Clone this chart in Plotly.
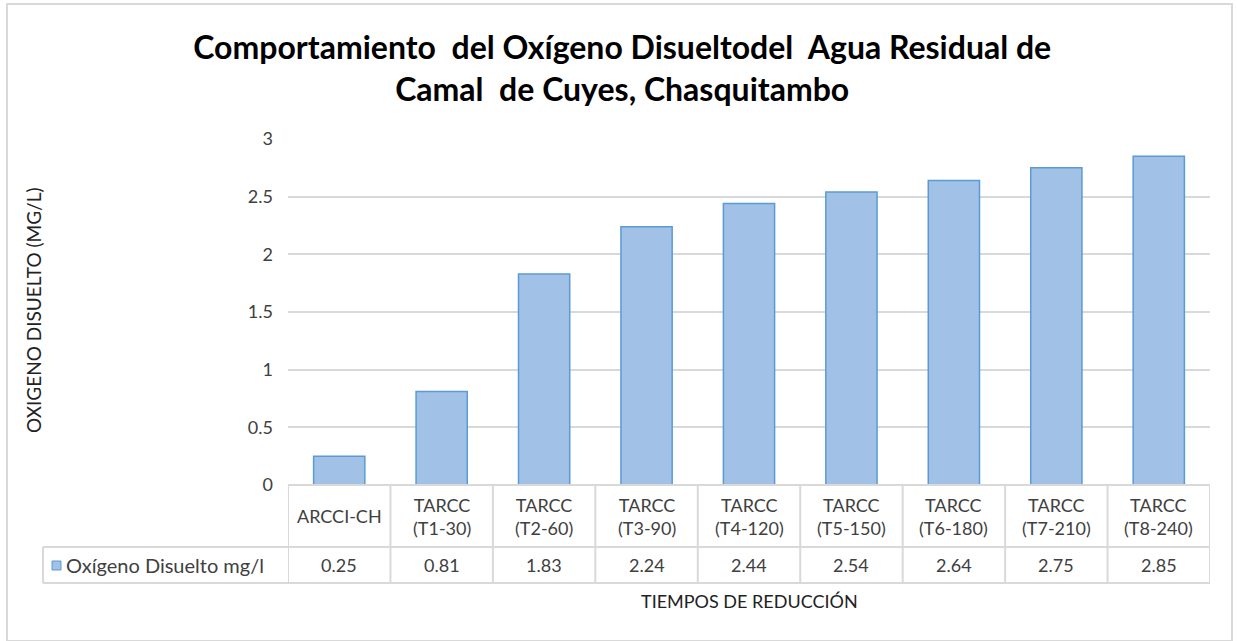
import plotly.graph_objects as go

categories = ["ARCCI-CH", "TARCC<br>(T1-30)", "TARCC<br>(T2-60)", "TARCC<br>(T3-90)",
              "TARCC<br>(T4-120)", "TARCC<br>(T5-150)", "TARCC<br>(T6-180)",
              "TARCC<br>(T7-210)", "TARCC<br>(T8-240)"]
values = [0.25, 0.81, 1.83, 2.24, 2.44, 2.54, 2.64, 2.75, 2.85]
series_name = "Oxígeno Disuelto mg/l"
title_text = "Comportamiento  del Oxígeno Disueltodel  Agua Residual de<br>Camal  de Cuyes, Chasquitambo"
y_title = "OXIGENO DISUELTO (MG/L)"
x_title = "TIEMPOS DE REDUCCIÓN"
y_ticks = [0, 0.5, 1, 1.5, 2, 2.5, 3]

FONT = "Lato"
TXT = "#404040"
GRID = "#d9d9d9"
BAR_FILL = "#a2c1e7"
BAR_LINE = "#5b9bd5"

W, H = 1237, 641
L, R, T, B = 288, 27, 139, 156
PW, PH = W - L - R, H - T - B


def px_x(X):
    return (X - L) / PW


def px_y(Y):
    return (H - B - Y) / PH


fig = go.Figure()
fig.add_trace(go.Bar(
    x=list(range(len(categories))), y=values, name=series_name,
    marker=dict(color=BAR_FILL, line=dict(color=BAR_LINE, width=1.5)),
    width=0.5, showlegend=False,
))

shapes = []
line_style = dict(color=GRID, width=2)
n = len(categories)
shapes.append(dict(type="line", xref="paper", yref="paper", x0=0, x1=1, y0=0, y1=0, line=line_style))
for yy in (547, 583):
    shapes.append(dict(type="line", xref="paper", yref="paper", x0=px_x(43), x1=1,
                       y0=px_y(yy), y1=px_y(yy), line=line_style))
for i in range(n + 1):
    shapes.append(dict(type="line", xref="x", yref="paper", x0=i - 0.5, x1=i - 0.5,
                       y0=0, y1=px_y(583), line=line_style))
shapes.append(dict(type="line", xref="paper", yref="paper", x0=px_x(43), x1=px_x(43),
                   y0=px_y(547), y1=px_y(583), line=line_style))
shapes.append(dict(type="rect", xref="paper", yref="paper",
                   x0=px_x(52), x1=px_x(61), y0=px_y(570), y1=px_y(561),
                   fillcolor=BAR_FILL, line=dict(color=BAR_LINE, width=1)))
shapes.append(dict(type="rect", xref="paper", yref="paper",
                   x0=px_x(7), x1=px_x(1232), y0=px_y(641), y1=px_y(4),
                   line=dict(color=GRID, width=2)))

annotations = []
for i, (c, v) in enumerate(zip(categories, values)):
    annotations.append(dict(x=i, y=px_y(516), xref="x", yref="paper", text=c,
                            showarrow=False, font=dict(family=FONT, size=18, color=TXT),
                            xanchor="center", yanchor="middle", align="center"))
    annotations.append(dict(x=i, y=px_y(565), xref="x", yref="paper", text=f"{v:.2f}",
                            showarrow=False, font=dict(family=FONT, size=18, color=TXT),
                            xanchor="center", yanchor="middle"))
annotations.append(dict(x=px_x(64), y=px_y(565), xref="paper", yref="paper", text=series_name,
                        showarrow=False, font=dict(family=FONT, size=20, color=TXT),
                        xanchor="left", yanchor="middle"))
annotations.append(dict(x=0.5, y=px_y(601), xref="paper", yref="paper", text=x_title,
                        showarrow=False, font=dict(family=FONT, size=18, color="#222222"),
                        xanchor="center", yanchor="middle"))
annotations.append(dict(x=px_x(33), y=px_y(310), xref="paper", yref="paper", text=y_title,
                        showarrow=False, textangle=-90,
                        font=dict(family=FONT, size=19, color="#222222"),
                        xanchor="center", yanchor="middle"))

fig.update_layout(
    width=W, height=H,
    margin=dict(l=L, r=R, t=T, b=B),
    paper_bgcolor="white", plot_bgcolor="white",
    title=dict(text=title_text, x=0.503, xanchor="center", y=(H - 59) / H,
               yanchor="middle", font=dict(family=FONT, size=32, color="#000000", weight="bold")),
    xaxis=dict(range=[-0.5, n - 0.5], showticklabels=False, showgrid=False,
               zeroline=False, showline=False, ticks=""),
    yaxis=dict(range=[0, 3], tickvals=y_ticks, ticktext=[f"{t:g}" for t in y_ticks],
               showgrid=True, gridcolor=GRID, gridwidth=2, zeroline=False, showline=False,
               tickfont=dict(family=FONT, size=18, color=TXT), ticklabelstandoff=14),
    shapes=shapes, annotations=annotations, bargap=0.5,
)

fig.write_html("out.html", config={"displayModeBar": False},
               post_script="document.body.style.margin='0';document.body.style.overflow='hidden';")
